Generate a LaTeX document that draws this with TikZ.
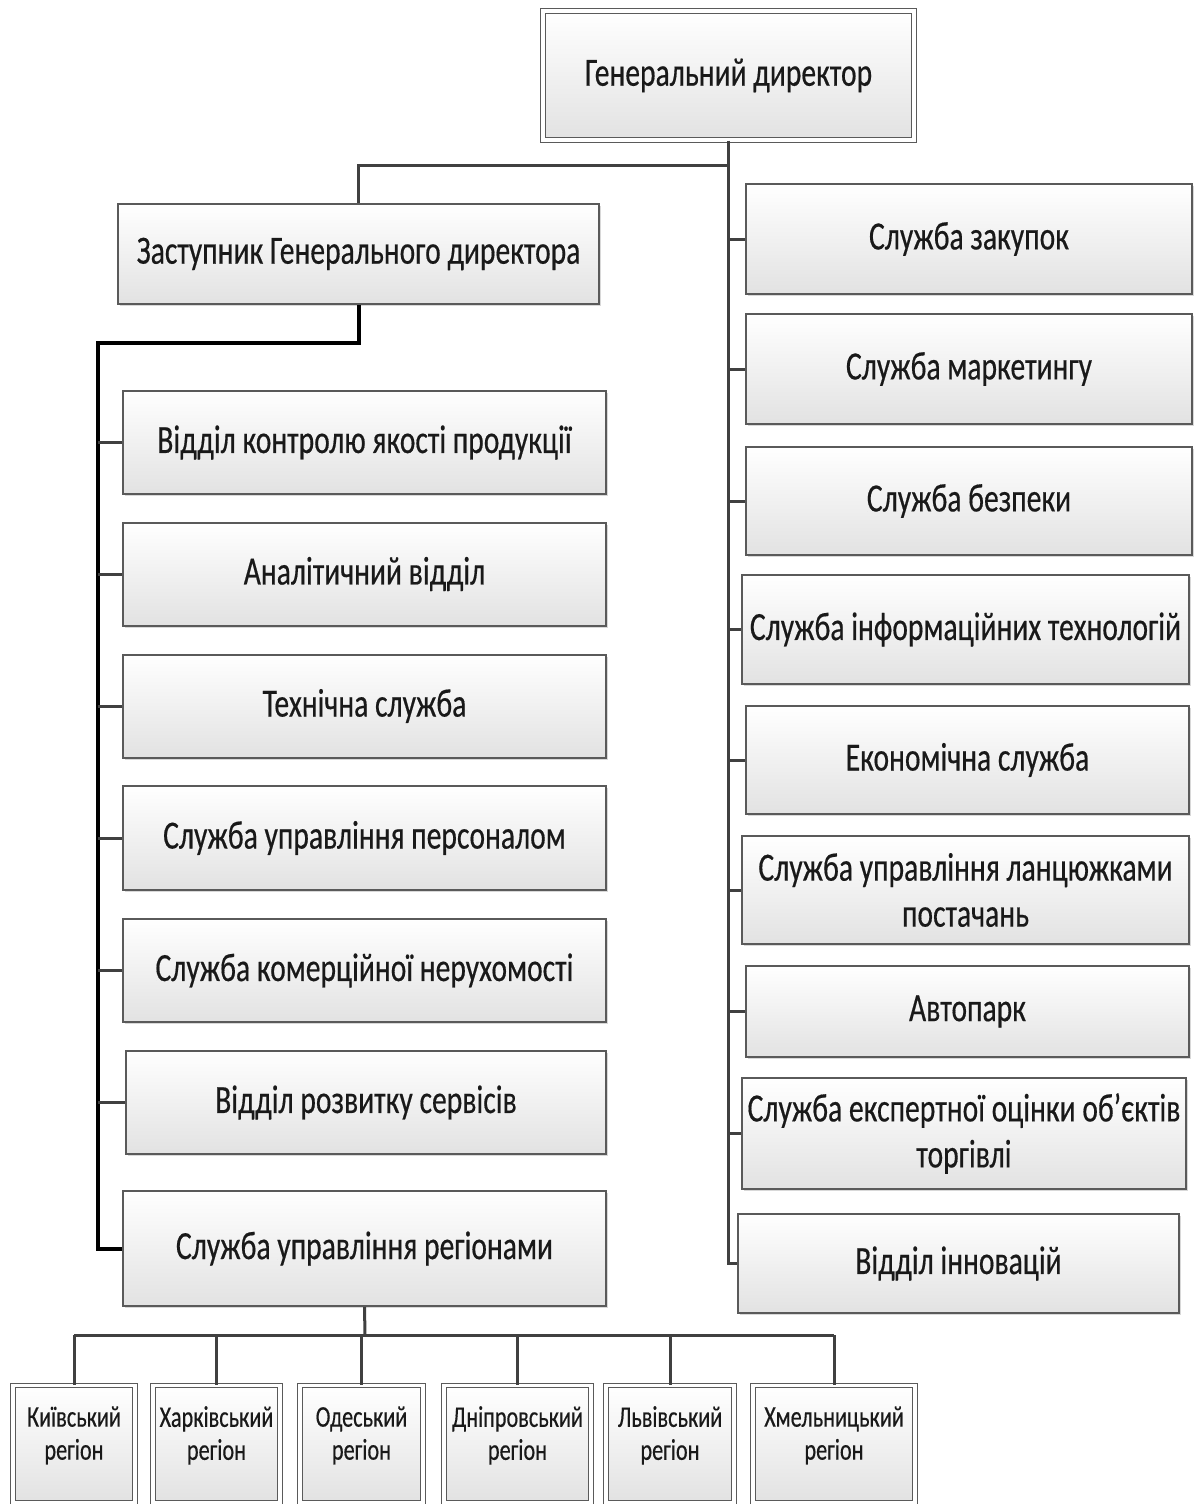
\documentclass[tikz,border=0pt]{standalone}
\usepackage{fontspec}
\setmainfont[FakeStretch=0.74,FakeBold=0.4]{Carlito}
\usepackage{tikz}
\usetikzlibrary{positioning,shadows,calc}
\definecolor{boxline}{HTML}{5A5A5A}
\definecolor{boxfill}{HTML}{E2E2E2}
\definecolor{linkgray}{HTML}{404040}

\begin{document}
\begin{tikzpicture}[x=0.5pt,y=0.5pt,
  unit/.style={draw=boxline,line width=1pt,top color=white,bottom color=boxfill,
    drop shadow={shadow xshift=1.2pt,shadow yshift=-1.2pt,opacity=0.3},
    font=\fontsize{20}{23}\selectfont,text=black!90,align=center,inner sep=2pt},
  chief/.style={unit,double=white,double distance=1.6pt,line width=0.6pt},
  region/.style={chief,font=\fontsize{15}{16.5}\selectfont,minimum height=58.5pt,text depth=11pt},
  link/.style={draw=linkgray,line width=1.5pt},
  mainlink/.style={draw=black,line width=2pt}]
\path[use as bounding box,fill=white] (0,0) rectangle (1197,-1504);

\node[chief,minimum width=185.5pt,minimum height=64.5pt] (gd) at (728.5,-75.5) {Генеральний директор};
\node[unit,minimum width=240.5pt,minimum height=50pt] (zgd) at (358.5,-254) {Заступник Генерального директора};

\node[unit,minimum width=241.5pt,minimum height=51.5pt] (vkyap) at (364.5,-442.5) {Відділ контролю якості продукції};
\node[unit,minimum width=241.5pt,minimum height=51.5pt] (av) at (364.5,-574) {Аналітичний відділ};
\node[unit,minimum width=241.5pt,minimum height=51.5pt] (ts) at (364.5,-706) {Технічна служба};
\node[unit,minimum width=241.5pt,minimum height=52pt] (sup) at (364.5,-838) {Служба управління персоналом};
\node[unit,minimum width=241.5pt,minimum height=51.5pt] (skn) at (364.5,-970.5) {Служба комерційної нерухомості};
\node[unit,minimum width=240pt,minimum height=51.5pt] (vrs) at (366,-1102.5) {Відділ розвитку сервісів};
\node[unit,minimum width=241.5pt,minimum height=57.5pt] (sur) at (364.5,-1248.5) {Служба управління регіонами};

\node[unit,minimum width=223pt,minimum height=55pt] (sz) at (969,-239) {Служба закупок};
\node[unit,minimum width=223pt,minimum height=55pt] (sm) at (969,-369) {Служба маркетингу};
\node[unit,minimum width=223pt,minimum height=54pt] (sb) at (969,-501) {Служба безпеки};
\node[unit,minimum width=223.5pt,minimum height=54.5pt] (sit) at (965.5,-629.5) {Служба інформаційних технологій};
\node[unit,minimum width=221.5pt,minimum height=54pt] (es) at (967.5,-760) {Економічна служба};
\node[unit,minimum width=223.5pt,minimum height=54pt] (sul) at (965.5,-890) {Служба управління ланцюжками\\постачань};
\node[unit,minimum width=221.5pt,minimum height=45.5pt] (ap) at (967.5,-1011.5) {Автопарк};
\node[unit,minimum width=222pt,minimum height=55.5pt] (seo) at (964,-1133.5) {Служба експертної оцінки об’єктів\\торгівлі};
\node[unit,minimum width=220.5pt,minimum height=49.5pt] (vi) at (958.5,-1263.5) {Відділ інновацій};

\node[region,minimum width=61pt] (kyiv) at (74,-1444) {Київський\\регіон};
\node[region,minimum width=63.5pt] (khar) at (216.5,-1444) {Харківський\\регіон};
\node[region,minimum width=61.5pt] (odes) at (361.5,-1444) {Одеський\\регіон};
\node[region,minimum width=73.5pt] (dnip) at (517.5,-1444) {Дніпровський\\регіон};
\node[region,minimum width=64pt] (lviv) at (670,-1444) {Львівський\\регіон};
\node[region,minimum width=81pt] (khm) at (834,-1444) {Хмельницький\\регіон};

\draw[link] (gd.south) -- ++(0,-25) coordinate (gdfork) -| (zgd.north);
\draw[link] (gdfork) |- (vi.west);
\draw[link] (gdfork |- sz.west) -- (sz.west);
\draw[link] (gdfork |- sm.west) -- (sm.west);
\draw[link] (gdfork |- sb.west) -- (sb.west);
\draw[link] (gdfork |- sit.west) -- (sit.west);
\draw[link] (gdfork |- es.west) -- (es.west);
\draw[link] (gdfork |- sul.west) -- (sul.west);
\draw[link] (gdfork |- ap.west) -- (ap.west);
\draw[link] (gdfork |- seo.west) -- (seo.west);

\coordinate (lbus) at (98,-343);
\draw[mainlink] (zgd.south) |- (lbus) |- (sur.west);
\draw[link] (lbus |- vkyap.west) -- (vkyap.west);
\draw[link] (lbus |- av.west) -- (av.west);
\draw[link] (lbus |- ts.west) -- (ts.west);
\draw[link] (lbus |- sup.west) -- (sup.west);
\draw[link] (lbus |- skn.west) -- (skn.west);
\draw[link] (lbus |- vrs.west) -- (vrs.west);

\coordinate (rbus) at (365,-1335);
\draw[link] (sur.south) -- (rbus);
\draw[link] (kyiv.north |- rbus) -- (khm.north |- rbus);
\draw[link] (kyiv.north |- rbus) -- (kyiv.north);
\draw[link] (khar.north |- rbus) -- (khar.north);
\draw[link] (odes.north |- rbus) -- (odes.north);
\draw[link] (dnip.north |- rbus) -- (dnip.north);
\draw[link] (lviv.north |- rbus) -- (lviv.north);
\draw[link] (khm.north |- rbus) -- (khm.north);
\end{tikzpicture}
\end{document}
